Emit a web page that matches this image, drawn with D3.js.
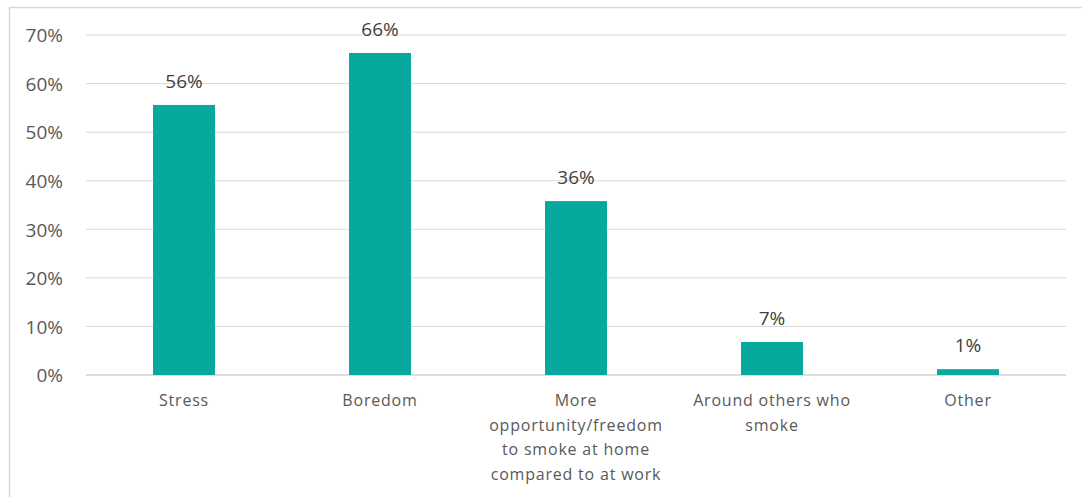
<!DOCTYPE html>
<html><head><meta charset="utf-8">
<script src="https://cdn.jsdelivr.net/npm/d3@7/dist/d3.min.js"></script>
<style>body{margin:0;background:#fff;}svg{display:block;}</style>
</head><body>
<svg id="c" width="1082" height="497"></svg>
<script>
const categories = [
  ["Stress"],
  ["Boredom"],
  ["More", "opportunity/freedom", "to smoke at home", "compared to at work"],
  ["Around others who", "smoke"],
  ["Other"]
];
const values = [55.6, 66.3, 35.8, 6.8, 1.2];
const valueLabels = ["56%", "66%", "36%", "7%", "1%"];
const yTicks = [0, 10, 20, 30, 40, 50, 60, 70];

(function () {
const svg = d3.select("#c");
const font = "'Open Sans', 'Liberation Sans', sans-serif";
const textColor = "#595959";

// outer border
svg.append("rect").attr("x", 9.5).attr("y", 7.5).attr("width", 1090).attr("height", 500)
  .attr("fill", "none").attr("stroke", "#d9d9d9").attr("stroke-width", 1.5);

const pl = 86, pr = 1066, pt = 35, pb = 375;
const x = d3.scaleBand().domain(d3.range(categories.length)).range([pl, pr]).paddingInner(0.684).paddingOuter(0.342);
const y = d3.scaleLinear().domain([0, 70]).range([pb, pt]);

// gridlines
svg.append("g").selectAll("line").data(yTicks).join("line")
  .attr("x1", pl).attr("x2", pr)
  .attr("y1", d => y(d)).attr("y2", d => y(d))
  .attr("stroke", d => d === 0 ? "#d0d0d0" : "#d9d9d9")
  .attr("stroke-width", d => d === 0 ? 1.5 : 1);

// y labels
const yAxis = d3.axisLeft(y).tickValues(yTicks).tickFormat(d => d + "%").tickSize(0).tickPadding(0);
const ya = svg.append("g").attr("transform", `translate(${63},0)`).call(yAxis);
ya.select(".domain").remove();
ya.selectAll("text").attr("font-family", font).attr("font-size", 19).attr("fill", textColor).attr("dy", "0.36em");

// bars
svg.append("g").selectAll("rect").data(values).join("rect")
  .attr("x", (d, i) => x(i)).attr("width", x.bandwidth())
  .attr("y", d => y(d)).attr("height", d => y(0) - y(d))
  .attr("fill", "#07a89d");

// value labels
svg.append("g").selectAll("text").data(values).join("text")
  .attr("x", (d, i) => x(i) + x.bandwidth() / 2)
  .attr("y", d => y(d) - 17)
  .attr("text-anchor", "middle")
  .attr("font-family", font).attr("font-size", 19).attr("fill", "#404040")
  .text((d, i) => valueLabels[i]);

// category labels
const cg = svg.append("g").selectAll("text").data(categories).join("text")
  .attr("x", (d, i) => x(i) + x.bandwidth() / 2)
  .attr("y", 406)
  .attr("text-anchor", "middle")
  .attr("font-family", font).attr("font-size", 16).attr("fill", textColor)
  .attr("letter-spacing", 0.8);
cg.selectAll("tspan").data(d => d).join("tspan")
  .attr("x", function() { return d3.select(this.parentNode).attr("x"); })
  .attr("dy", (d, j) => j === 0 ? 0 : 24.5)
  .text(d => d);
})();
</script>
</body></html>
